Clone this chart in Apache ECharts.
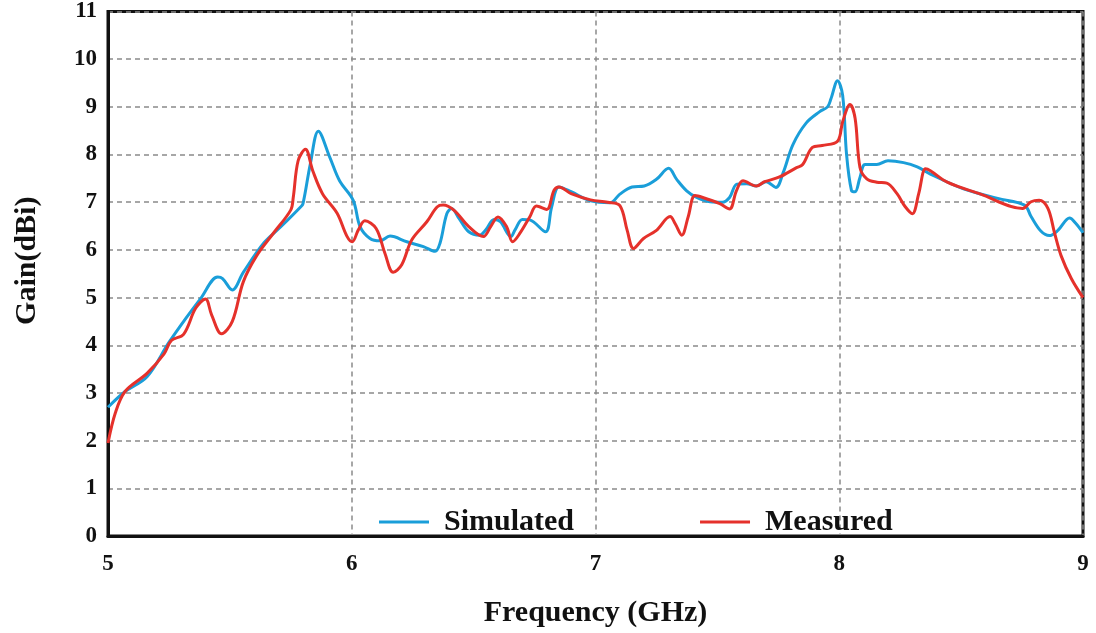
<!DOCTYPE html>
<html>
<head>
<meta charset="utf-8">
<script src="https://cdn.jsdelivr.net/npm/echarts@6/dist/echarts.min.js"></script>
<style>html,body{margin:0;padding:0;background:#fff}#c{width:1096px;height:633px}</style>
</head>
<body>
<div id="c"></div>
<script>
const simFreq = [5.00,5.07,5.16,5.25,5.32,5.38,5.45,5.47,5.51,5.555,5.64,5.71,5.79,5.80,5.83,5.863,5.91,5.95,6.006,6.034,6.075,6.116,6.157,6.226,6.294,6.342,6.362,6.39,6.41,6.44,6.48,6.525,6.55,6.584,6.61,6.653,6.67,6.70,6.73,6.795,6.82,6.85,6.90,6.98,7.06,7.10,7.15,7.20,7.25,7.30,7.333,7.374,7.415,7.47,7.52,7.55,7.58,7.62,7.66,7.70,7.74,7.77,7.81,7.864,7.92,7.952,7.966,7.993,8.014,8.03,8.05,8.065,8.085,8.106,8.154,8.20,8.264,8.32,8.374,8.51,8.65,8.76,8.787,8.828,8.862,8.897,8.945,8.97,9.00];
const simGain = [2.70,3.03,3.34,4.06,4.57,4.98,5.43,5.40,5.16,5.53,6.15,6.49,6.90,6.97,7.80,8.49,7.94,7.45,7.04,6.49,6.24,6.19,6.29,6.17,6.07,5.97,6.14,6.76,6.87,6.66,6.38,6.31,6.42,6.64,6.59,6.28,6.42,6.64,6.63,6.38,6.90,7.32,7.22,7.03,6.99,7.17,7.32,7.34,7.48,7.71,7.48,7.24,7.10,7.01,7.00,7.10,7.38,7.39,7.34,7.43,7.31,7.62,8.21,8.66,8.90,9.00,9.17,9.55,9.24,8.00,7.25,7.22,7.52,7.79,7.79,7.87,7.83,7.74,7.59,7.28,7.08,6.94,6.70,6.39,6.30,6.41,6.67,6.56,6.36];
const measFreq = [5.00,5.03,5.07,5.16,5.23,5.26,5.31,5.36,5.40,5.425,5.466,5.51,5.555,5.61,5.68,5.75,5.76,5.78,5.81,5.84,5.88,5.94,5.98,6.002,6.027,6.054,6.10,6.136,6.17,6.205,6.246,6.308,6.35,6.375,6.42,6.48,6.54,6.57,6.60,6.635,6.66,6.69,6.73,6.758,6.80,6.83,6.85,6.90,6.98,7.05,7.10,7.13,7.156,7.197,7.25,7.306,7.327,7.354,7.38,7.408,7.44,7.51,7.55,7.578,7.605,7.66,7.694,7.755,7.823,7.85,7.89,7.93,7.993,8.014,8.044,8.065,8.085,8.113,8.154,8.195,8.237,8.27,8.30,8.326,8.354,8.374,8.443,8.58,8.752,8.787,8.82,8.856,8.883,8.91,8.952,9.00];
const measGain = [1.95,2.58,3.03,3.41,3.82,4.10,4.23,4.78,4.97,4.64,4.24,4.50,5.33,5.88,6.36,6.84,7.10,7.87,8.11,7.66,7.18,6.77,6.29,6.17,6.42,6.61,6.45,5.93,5.53,5.69,6.21,6.59,6.90,6.94,6.83,6.49,6.28,6.49,6.69,6.49,6.17,6.35,6.69,6.92,6.85,7.25,7.32,7.18,7.05,7.00,6.93,6.41,6.03,6.24,6.41,6.70,6.55,6.31,6.69,7.14,7.10,6.97,6.86,7.24,7.45,7.34,7.43,7.53,7.72,7.79,8.15,8.19,8.28,8.69,9.05,8.76,7.73,7.49,7.42,7.40,7.18,6.91,6.76,7.18,7.70,7.66,7.42,7.17,6.87,7.01,7.04,6.87,6.36,5.88,5.40,5.00];
const seriesNames = ['Simulated','Measured'];
const xTicks = [5,6,7,8,9];
const yTicks = [0,1,2,3,4,5,6,7,8,9,10,11];

const zip = (a,b) => a.map((v,i)=>[v,b[i]]);
const FONT = '"Liberation Serif","Times New Roman",serif';
const chart = echarts.init(document.getElementById('c'), null, {renderer:'canvas'});
const gridLine = {show:true, lineStyle:{color:'#8a8a8a', type:[5,4], width:1.5}};
chart.setOption({
  animation:false,
  backgroundColor:'#fff',
  grid:{left:108, right:13, top:11, bottom:87, show:true, borderColor:'#111', borderWidth:3, backgroundColor:'transparent'},
  legend:{
    data:seriesNames, left:374, top:502, itemWidth:50, itemHeight:3, itemGap:126, icon:'rect',
    textStyle:{fontFamily:FONT, fontWeight:'bold', fontSize:30, color:'#111', padding:[0,0,0,10]}
  },
  xAxis:{
    type:'value', min:xTicks[0], max:xTicks[xTicks.length-1], interval:1,
    name:'Frequency (GHz)', nameLocation:'middle', nameGap:62,
    nameTextStyle:{fontFamily:FONT, fontWeight:'bold', fontSize:30, color:'#111'},
    axisLine:{show:true, lineStyle:{color:'#111', width:3}},
    axisTick:{show:false},
    axisLabel:{fontFamily:FONT, fontWeight:'bold', fontSize:23, color:'#111', margin:17},
    splitLine:gridLine
  },
  yAxis:{
    type:'value', min:yTicks[0], max:yTicks[yTicks.length-1], interval:1,
    name:'Gain(dBi)', nameLocation:'middle', nameGap:66,
    nameTextStyle:{fontFamily:FONT, fontWeight:'bold', fontSize:30, color:'#111', padding:[0,0,0,26]},
    axisLine:{show:true, lineStyle:{color:'#111', width:3}},
    axisTick:{show:false},
    axisLabel:{fontFamily:FONT, fontWeight:'bold', fontSize:23, color:'#111', margin:11, padding:[7,0,0,0]},
    splitLine:gridLine
  },
  series:[
    {name:seriesNames[0], type:'line', data:zip(simFreq,simGain), showSymbol:false, symbol:'none', smooth:0.35,
     lineStyle:{color:'#1a9ed9', width:3}, itemStyle:{color:'#1a9ed9'}},
    {name:seriesNames[1], type:'line', data:zip(measFreq,measGain), showSymbol:false, symbol:'none', smooth:0.35,
     lineStyle:{color:'#e5312b', width:3}, itemStyle:{color:'#e5312b'}}
  ]
});
</script>
</body>
</html>
